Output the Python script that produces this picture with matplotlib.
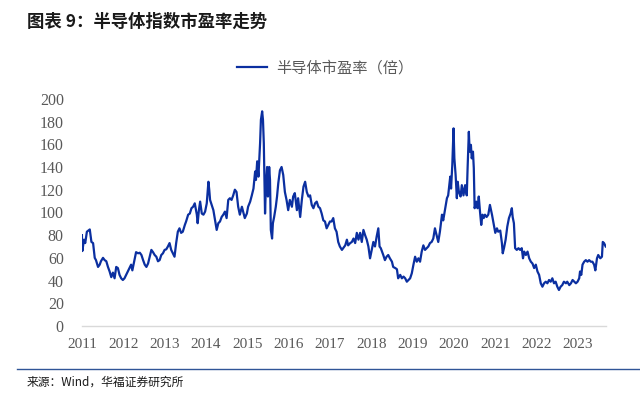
import matplotlib.pyplot as plt
from matplotlib.lines import Line2D

plt.rcParams['font.family'] = ['Noto Sans CJK SC', 'DejaVu Sans']

# decimal years
years = [
    2011.00, 2011.01, 2011.05, 2011.08, 2011.12, 2011.19, 2011.23, 2011.27, 2011.31, 2011.34,
    2011.39, 2011.43, 2011.46, 2011.51, 2011.55, 2011.59, 2011.63, 2011.67, 2011.71, 2011.75,
    2011.79, 2011.83, 2011.87, 2011.91, 2011.95, 2011.99, 2012.03, 2012.07, 2012.11, 2012.15,
    2012.19, 2012.22, 2012.28, 2012.31, 2012.36, 2012.40, 2012.44, 2012.48, 2012.52, 2012.56,
    2012.60, 2012.64, 2012.68, 2012.72, 2012.76, 2012.80, 2012.84, 2012.88, 2012.92, 2012.96,
    2013.00, 2013.04, 2013.08, 2013.12, 2013.16, 2013.20, 2013.24, 2013.28, 2013.32, 2013.36,
    2013.40, 2013.44, 2013.49, 2013.52, 2013.57, 2013.61, 2013.65, 2013.69, 2013.73, 2013.78,
    2013.80, 2013.83, 2013.86, 2013.90, 2013.94, 2013.98, 2014.02, 2014.06, 2014.08, 2014.10,
    2014.14, 2014.18, 2014.22, 2014.26, 2014.30, 2014.34, 2014.38, 2014.42, 2014.46, 2014.50,
    2014.54, 2014.58, 2014.62, 2014.66, 2014.70, 2014.74, 2014.78, 2014.82, 2014.87, 2014.90,
    2014.94, 2014.99, 2015.02, 2015.07, 2015.11, 2015.15, 2015.19, 2015.21, 2015.24, 2015.27,
    2015.31, 2015.33, 2015.36, 2015.38, 2015.40, 2015.43, 2015.45, 2015.48, 2015.50, 2015.53,
    2015.55, 2015.57, 2015.60, 2015.62, 2015.65, 2015.69, 2015.72, 2015.75, 2015.79, 2015.83,
    2015.87, 2015.91, 2015.95, 2015.99, 2016.03, 2016.08, 2016.11, 2016.15, 2016.20, 2016.23,
    2016.28, 2016.32, 2016.36, 2016.40, 2016.44, 2016.48, 2016.52, 2016.56, 2016.60, 2016.64,
    2016.68, 2016.72, 2016.76, 2016.80, 2016.84, 2016.88, 2016.92, 2016.96, 2017.00, 2017.04,
    2017.08, 2017.12, 2017.16, 2017.20, 2017.24, 2017.29, 2017.32, 2017.37, 2017.41, 2017.44,
    2017.49, 2017.53, 2017.57, 2017.61, 2017.65, 2017.69, 2017.73, 2017.77, 2017.81, 2017.85,
    2017.89, 2017.93, 2017.97, 2018.01, 2018.05, 2018.09, 2018.13, 2018.17, 2018.20, 2018.23,
    2018.26, 2018.29, 2018.33, 2018.37, 2018.41, 2018.45, 2018.50, 2018.53, 2018.58, 2018.62,
    2018.65, 2018.70, 2018.74, 2018.78, 2018.82, 2018.86, 2018.90, 2018.94, 2018.98, 2019.02,
    2019.06, 2019.10, 2019.14, 2019.18, 2019.22, 2019.26, 2019.30, 2019.34, 2019.38, 2019.42,
    2019.46, 2019.50, 2019.54, 2019.58, 2019.62, 2019.66, 2019.71, 2019.74, 2019.79, 2019.83,
    2019.86, 2019.91, 2019.93, 2019.96, 2019.99, 2020.01, 2020.04, 2020.07, 2020.09, 2020.12,
    2020.16, 2020.19, 2020.23, 2020.27, 2020.31, 2020.33, 2020.36, 2020.38, 2020.41, 2020.43,
    2020.46, 2020.48, 2020.50, 2020.54, 2020.57, 2020.60, 2020.63, 2020.66, 2020.69, 2020.72,
    2020.75, 2020.79, 2020.83, 2020.87, 2020.92, 2020.95, 2021.00, 2021.04, 2021.07, 2021.12,
    2021.16, 2021.18, 2021.21, 2021.25, 2021.29, 2021.33, 2021.37, 2021.40, 2021.42, 2021.45,
    2021.48, 2021.52, 2021.56, 2021.60, 2021.64, 2021.67, 2021.70, 2021.74, 2021.78, 2021.82,
    2021.86, 2021.90, 2021.94, 2021.98, 2022.02, 2022.06, 2022.10, 2022.14, 2022.18, 2022.22,
    2022.26, 2022.30, 2022.34, 2022.38, 2022.42, 2022.46, 2022.50, 2022.54, 2022.58, 2022.62,
    2022.66, 2022.71, 2022.74, 2022.79, 2022.83, 2022.87, 2022.91, 2022.95, 2022.99, 2023.03,
    2023.05, 2023.08, 2023.11, 2023.15, 2023.19, 2023.23, 2023.27, 2023.31, 2023.35, 2023.39,
    2023.42, 2023.46, 2023.49, 2023.54, 2023.58, 2023.60, 2023.63, 2023.67,
]

# PE ratio (倍)
pe = [
    80, 66, 76, 73, 83, 85, 74, 73, 60, 58,
    52, 54, 57, 60, 58, 57, 52, 48, 43, 47,
    42, 52, 51, 45, 42, 40.5, 42, 45, 48, 51,
    54, 49, 60, 65, 64, 64.5, 62.5, 58, 54, 52,
    55, 61, 67, 65, 62.5, 61, 57, 58, 62.5, 64,
    67, 67.5, 70, 73, 67, 64, 61, 73, 83, 86,
    82, 83, 89, 92, 98, 99, 103.7, 105, 108, 98,
    90.5, 102, 109.5, 99, 98, 100.7, 108, 127, 120, 111,
    106.6, 102, 93, 84.6, 90.5, 92, 96, 98, 100.7, 95,
    111, 112.5, 111, 115, 120, 118, 105, 98, 105, 100.7,
    95, 99, 105, 109.5, 115, 121, 136, 128.6, 145, 131.5,
    161, 181.5, 189, 181.5, 161, 99, 122.7, 140, 114, 140,
    128.6, 84.6, 77, 90.5, 96, 105, 114, 125.7, 137, 140,
    133, 118, 111, 102, 111, 105, 114, 117, 102, 112.5,
    96, 111, 122.7, 127, 118, 114, 115, 106.6, 103.7, 108,
    109.5, 105, 103.7, 99, 93, 92, 86, 89, 92, 92,
    95, 86, 83, 74, 70, 67, 68.5, 71, 76, 71,
    73, 74, 77, 73, 82, 76, 82, 74, 84.6, 80,
    76, 70, 59.6, 67, 74, 70, 78.7, 86, 70, 68.5,
    65.5, 62.5, 58, 61, 62.5, 59.6, 56.6, 52, 51, 50,
    42, 45, 42, 43.5, 42, 39, 40.5, 42, 46.4, 54,
    61, 56.6, 59.6, 56.6, 65.5, 71, 67, 68.5, 70, 73,
    74, 77, 86, 80, 74, 83, 98, 93, 103.7, 112.5,
    115, 131.5, 121, 142, 174, 147.6, 133, 112.5, 127, 118,
    114, 124, 115, 124, 115, 139, 171, 153.5, 159.5, 147.6,
    153.5, 139, 103.7, 109.5, 103.7, 114, 100.7, 89, 98, 95,
    98, 96, 98, 106.6, 98, 92, 82, 86, 83, 84,
    73, 64, 68.5, 76, 87.5, 95, 99, 103.7, 96, 90.5,
    68.5, 67, 68.5, 67, 68.5, 59.6, 65.5, 62.5, 65.5, 59.6,
    56.6, 55, 51, 54, 48, 45, 37.6, 34.6, 37.6, 39,
    37.6, 40.5, 39, 42, 37.6, 39, 34.6, 31.7, 34.6, 36,
    39, 37.6, 39, 36, 37.6, 40.5, 39, 37.6, 39, 42,
    48, 45, 54, 56.6, 58, 56.6, 58, 56.6, 56.6, 54,
    49, 59.6, 62.5, 59.6, 61, 74, 73, 70,
]

year_ticks = list(range(2011, 2024))
y_ticks = list(range(0, 201, 20))

LINE_BLUE = '#0B2FA0'
GREY = '#595959'
SERIF = ['Liberation Serif', 'DejaVu Serif']


def main():
    fig = plt.figure(figsize=(6.4, 3.93), dpi=100)
    ax = fig.add_axes([0.128, 0.1705, 0.819, 0.578])

    ax.plot(years, pe, color=LINE_BLUE, linewidth=1.6, label='半导体市盈率（倍）')

    ax.set_xlim(2011, 2023.68)
    ax.set_ylim(0, 200)
    ax.set_xticks(year_ticks)
    ax.set_xticklabels([str(y) for y in year_ticks], family=SERIF, fontsize=11, color=GREY)
    ax.set_yticks(y_ticks)
    ax.set_yticklabels([str(v) for v in y_ticks], family=SERIF, fontsize=11.5, color=GREY)
    ax.tick_params(axis='both', length=0)
    ax.tick_params(axis='y', pad=13)
    ax.tick_params(axis='x', pad=9)

    for side in ['top', 'right', 'left']:
        ax.spines[side].set_visible(False)
    ax.spines['bottom'].set_color('#D9D9D9')
    ax.spines['bottom'].set_linewidth(1.0)

    leg = ax.legend(loc='center', bbox_to_anchor=(0.508, 0.827), bbox_transform=fig.transFigure,
                    frameon=False, fontsize=11, handlelength=2.0, handletextpad=0.6)
    for t in leg.get_texts():
        t.set_color(GREY)

    fig.text(0.042, 0.944, '图表 9：半导体指数市盈率走势', fontsize=12.5, fontweight='bold',
             color='#1a1a1a', va='center', ha='left')

    fig.add_artist(Line2D([0.027, 1.0], [0.062, 0.062], transform=fig.transFigure,
                          color='#2F5597', linewidth=1.0))
    fig.text(0.042, 0.028, '来源：Wind，华福证券研究所', fontsize=8.5, color='#1a1a1a',
             va='center', ha='left')

    fig.savefig('out.png', dpi=100)


if __name__ == "__main__":
    main()
